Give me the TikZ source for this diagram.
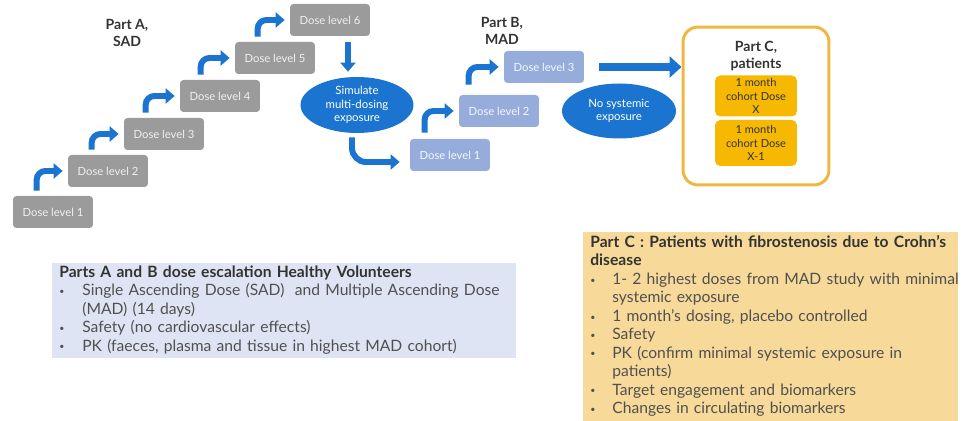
\documentclass[tikz,border=0pt]{standalone}
\usepackage{fontspec}
\setmainfont{Lato}
\usepackage{xcolor, tikz}
\usetikzlibrary{shapes.geometric,arrows.meta,calc}
\definecolor{doseblue}{RGB}{27,117,208}
\definecolor{sadgrey}{RGB}{155,155,155}
\definecolor{madblue}{RGB}{150,173,219}
\definecolor{cgold}{RGB}{246,184,0}
\definecolor{cframe}{RGB}{240,182,64}
\definecolor{hvfill}{RGB}{223,228,244}
\definecolor{ptfill}{RGB}{247,217,153}
\definecolor{ink}{RGB}{51,51,51}
\definecolor{softink}{RGB}{80,80,80}
\newcommand{\smallbullet}{\raisebox{0.15ex}{\fontsize{5}{5}\selectfont\textbullet}}
\tikzstyle{sad} = [rectangle, rounded corners=2pt, minimum width=1.6cm, minimum height=0.64cm, inner sep=0pt, fill=sadgrey, text=white!85!sadgrey, font=\fontsize{6.4}{7}\selectfont]
\tikzstyle{mad} = [sad, fill=madblue, text=white!90!madblue]
\tikzstyle{blob} = [ellipse, fill=doseblue, text=white, inner sep=0pt, align=center, font=\fontsize{6.5}{7.6}\selectfont]
\tikzstyle{partlabel} = [align=center, text=ink, font=\bfseries\fontsize{8}{9.5}\selectfont]
\tikzstyle{cohort} = [rectangle, rounded corners=3pt, fill=cgold, minimum width=1.64cm, inner sep=0pt, align=center, text=ink, font=\fontsize{6.3}{7.9}\selectfont]
\tikzstyle{notes} = [rectangle, anchor=north west, inner xsep=0.14cm, inner ysep=0.02cm, align=left, text=softink, font=\fontsize{8.9}{10.5}\selectfont]
\tikzstyle{stair} = [doseblue, line width=3.4pt, rounded corners=5pt, shorten >=0.1cm, -{Triangle[length=0.18cm, width=0.3cm]}]
\tikzstyle{bigarrow} = [doseblue, line width=4.5pt, -{Triangle[length=0.24cm, width=0.42cm]}]

\begin{document}
\begin{tikzpicture}[x=0.02cm, y=-0.02cm]
    \useasboundingbox (0,0) rectangle (965,421);
    % part A, single ascending doses
    \node (sadlabel)[partlabel] at (127,33) {Part A,\\SAD};
    \node (a1)[sad] at (53,212) {Dose level 1};
    \node (a2)[sad] at (108,171) {Dose level 2};
    \node (a3)[sad] at (164,134) {Dose level 3};
    \node (a4)[sad] at (220,96) {Dose level 4};
    \node (a5)[sad] at (275,58) {Dose level 5};
    \node (a6)[sad] at (330,20) {Dose level 6};
    \draw[stair] ($(a1.north west)+(24,-5)$) |- (a2.west);
    \draw[stair] ($(a2.north west)+(24,-5)$) |- (a3.west);
    \draw[stair] ($(a3.north west)+(22,-5)$) |- (a4.west);
    \draw[stair] ($(a4.north west)+(21,-5)$) |- (a5.west);
    \draw[stair] ($(a5.north west)+(23,-5)$) |- (a6.west);

    \node (sim)[blob, minimum width=2.26cm, minimum height=1.12cm] at (357,105) {Simulate\\multi-dosing\\exposure};
    \draw[stair] ($(a6.south)+(18,6)$) -- ($(sim.north)+(-9,0)$);

    % part B, multiple ascending doses
    \node (madlabel)[partlabel] at (502,31) {Part B,\\MAD};
    \node (b1)[mad] at (450,155) {Dose level 1};
    \node (b2)[mad] at (499,111) {Dose level 2};
    \node (b3)[mad] at (544,67) {Dose level 3};
    \draw[stair, rounded corners=8pt, shorten >=0.2cm] ($(sim.south)+(-5,4)$) |- ($(b1.west)+(0,7)$);
    \draw[stair] ($(b1.north west)+(15,-6)$) |- (b2.west);
    \draw[stair] ($(b2.north west)+(10,-10)$) |- (b3.west);
    \node (nosys)[blob, minimum width=2.28cm, minimum height=1.1cm] at (619,111) {No systemic\\exposure};

    % part C, patients
    \node (partc)[rectangle, draw=cframe, line width=1.7pt, rounded corners=0.3cm, fill=white, minimum width=2.92cm, minimum height=3.16cm] at (756,106) {};
    \node (ctitle)[partlabel] at (756,56) {Part C,\\patients};
    \node (coh1)[cohort, minimum height=0.82cm] at (756,96) {1 month\\cohort Dose\\X};
    \node (coh2)[cohort, minimum height=0.92cm] at (756,143) {1 month\\cohort Dose\\X-1};
    \draw[bigarrow, shorten <=0.3cm] (b3.east) -- (b3.east -| partc.west);

    % notes
    \node (hv)[notes, fill=hvfill, minimum width=9.28cm, minimum height=1.88cm, text width=9cm] at (52,263) {%
      \begin{tabular}{@{}p{0.46cm}@{}l@{}}
        \multicolumn{2}{@{}l@{}}{\color{ink}\bfseries Parts A and B dose escalation Healthy Volunteers}\\
        \smallbullet & Single Ascending Dose (SAD)\ \ and Multiple Ascending Dose\\
         & (MAD) (14 days)\\
        \smallbullet & Safety (no cardiovascular effects)\\
        \smallbullet & PK (faeces, plasma and tissue in highest MAD cohort)
      \end{tabular}};
    \node (pt)[notes, fill=ptfill, minimum width=7.5cm, minimum height=3.78cm, text width=7.22cm] at (583,232) {%
      \begin{tabular}{@{}p{0.44cm}@{}l@{}}
        \multicolumn{2}{@{}l@{}}{\color{ink}\bfseries Part C : Patients with fibrostenosis due to Crohn’s}\\
        \multicolumn{2}{@{}l@{}}{\color{ink}\bfseries disease}\\
        \smallbullet & 1- 2 highest doses from MAD study with minimal\\
         & systemic exposure\\
        \smallbullet & 1 month's dosing, placebo controlled\\
        \smallbullet & Safety\\
        \smallbullet & PK (confirm minimal systemic exposure in\\
         & patients)\\
        \smallbullet & Target engagement and biomarkers\\
        \smallbullet & Changes in circulating biomarkers
      \end{tabular}};
\end{tikzpicture}
\end{document}
